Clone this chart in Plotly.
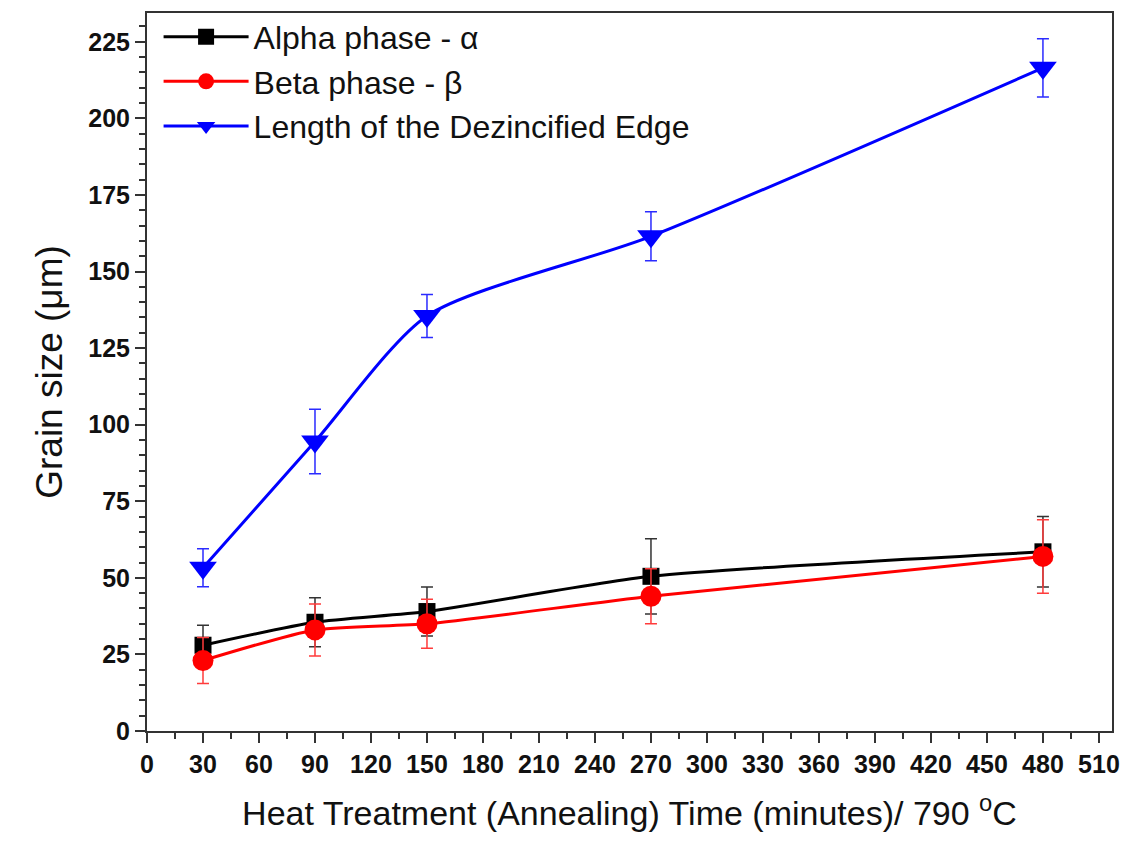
import plotly.graph_objects as go

time_min = [30, 90, 150, 270, 480]

alpha = [28, 35.5, 39, 50.5, 58.5]
alpha_err = [6.5, 8, 8, 12.3, 11.5]

beta = [23, 33, 35, 44, 57]
beta_err = [7.5, 8.5, 8, 9, 12]

edge = [53.3, 94.5, 135.5, 161.5, 216.5]
edge_err = [6.2, 10.5, 7, 8, 9.5]

x_ticks = list(range(0, 511, 30))
y_ticks = list(range(0, 226, 25))

fig = go.Figure()

series = [
    ("Alpha phase - α", alpha, alpha_err, "#000000", "#333333", "square", 17, 0.6),
    ("Beta phase - β", beta, beta_err, "#ff0000", "#ff3b3b", "circle", 21, 0.6),
    ("Length of the Dezincified Edge", edge, edge_err, "#0000ff", "#2b2bff", "triangle-down", 24, 0.7),
]

for name, vals, err, col, ecol, sym, msize, smooth in series:
    fig.add_trace(go.Scatter(
        x=time_min, y=vals, name=name, mode="lines+markers",
        line=dict(color=col, width=3, shape="spline", smoothing=smooth),
        marker=dict(symbol=sym, size=msize, color=col),
        error_y=dict(type="data", array=err, arrayminus=err, visible=True,
                     color=ecol, thickness=1.5, width=6),
    ))

axis_common = dict(
    showline=True, linecolor="#333333", linewidth=2, mirror=True,
    ticks="outside", ticklen=10, tickwidth=2, tickcolor="#333333",
    showgrid=False, zeroline=False,
    tickfont=dict(family="Liberation Sans", size=25, color="#111111", weight="bold"),
)

fig.update_xaxes(
    range=[0, 517], tickmode="array", tickvals=x_ticks,
    minor=dict(ticks="outside", ticklen=6, tickwidth=2, tickcolor="#333333", dtick=15, tick0=0),
    title=dict(text="Heat Treatment (Annealing) Time (minutes)/ 790 <sup>o</sup>C",
               font=dict(family="Liberation Sans", size=34, color="#111111"), standoff=24),
    **axis_common,
)
fig.update_yaxes(
    range=[0, 234.4], tickmode="array", tickvals=y_ticks,
    minor=dict(ticks="outside", ticklen=6, tickwidth=2, tickcolor="#333333", dtick=5, tick0=0),
    title=dict(text="Grain size (μm)\u00a0\u00a0\u00a0",
               font=dict(family="Liberation Sans", size=37, color="#111111"), standoff=14),
    **axis_common,
)

fig.update_layout(
    width=1129, height=846,
    margin=dict(l=147, r=9, t=10, b=115),
    plot_bgcolor="white", paper_bgcolor="white",
    showlegend=True,
    legend=dict(x=0.012, y=1.005, xanchor="left", yanchor="top",
                bgcolor="rgba(0,0,0,0)", font=dict(family="Liberation Sans", size=32, color="#111111"),
                itemwidth=85, tracegroupgap=0),
)

fig.write_html("out.html")
